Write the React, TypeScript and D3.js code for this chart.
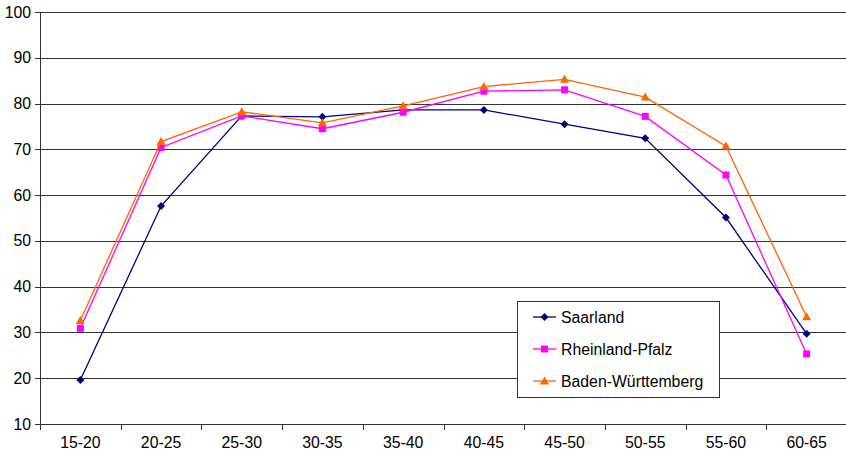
import React from "react";
import * as d3 from "d3";

const categories = ["15-20", "20-25", "25-30", "30-35", "35-40", "40-45", "45-50", "50-55", "55-60", "60-65"];
const saarland = [19.6, 57.6, 77.3, 77.1, 78.6, 78.6, 75.5, 72.4, 55.1, 29.7];
const rheinlandPfalz = [30.9, 70.4, 77.3, 74.5, 78.1, 82.7, 83.0, 77.2, 64.4, 25.3];
const badenWuerttemberg = [32.6, 71.7, 78.2, 75.8, 79.5, 83.7, 85.3, 81.4, 70.7, 33.4];
const yTicks = [10, 20, 30, 40, 50, 60, 70, 80, 90, 100];

const seriesList = [
  { name: "Saarland", values: saarland, color: "#000080", marker: "diamond" },
  { name: "Rheinland-Pfalz", values: rheinlandPfalz, color: "#FF00FF", marker: "square" },
  { name: "Baden-Württemberg", values: badenWuerttemberg, color: "#FF6600", marker: "triangle" },
];

const W = 846;
const H = 455;
const left = 40;
const right = 847;
const top = 12;
const bottom = 424;
const font = "Arial, 'Liberation Sans', sans-serif";
const fontSize = 15.8;

function Marker({ type, x, y, color }: { type: string; x: number; y: number; color: string }) {
  if (type === "diamond") {
    const r = 4;
    return <path d={`M${x},${y - r}L${x + r},${y}L${x},${y + r}L${x - r},${y}Z`} fill={color} />;
  }
  if (type === "square") {
    const s = 7;
    return <rect x={x - s / 2} y={y - s / 2} width={s} height={s} fill={color} />;
  }
  const r = 4.6;
  return <path d={`M${x},${y - r}L${x + r},${y + r * 0.75}L${x - r},${y + r * 0.75}Z`} fill={color} />;
}

export default function App() {
  const x = d3.scaleBand<string>().domain(categories).range([left, right]);
  const y = d3.scaleLinear().domain([10, 100]).range([bottom, top]);
  const cx = (c: string) => (x(c) ?? 0) + x.bandwidth() / 2;
  const line = d3
    .line<number>()
    .x((_, i) => cx(categories[i]))
    .y((v) => y(v));

  const legendX = 517;
  const legendY = 301;
  const legendRows = [317, 349, 381];

  return (
    <svg
      width={W}
      height={H}
      style={{ position: "absolute", left: 0, top: 0, background: "#fff" }}
      fontFamily={font}
    >
      {/* horizontal gridlines */}
      {yTicks.map((t) => (
        <line
          key={"g" + t}
          x1={left}
          x2={W}
          y1={Math.round(y(t)) + 0.5}
          y2={Math.round(y(t)) + 0.5}
          stroke="#333"
          strokeWidth={1}
        />
      ))}
      {/* y axis */}
      <line x1={left + 0.5} x2={left + 0.5} y1={top} y2={bottom + 1} stroke="#333" />
      {yTicks.map((t) => (
        <g key={"yt" + t}>
          <line x1={left - 5} x2={left} y1={Math.round(y(t)) + 0.5} y2={Math.round(y(t)) + 0.5} stroke="#333" />
          <text x={31} y={y(t) + 5.5} textAnchor="end" fontSize={fontSize} fill="#000">
            {t}
          </text>
        </g>
      ))}
      {/* x axis ticks and labels */}
      {categories.map((c) => (
        <g key={"xt" + c}>
          <line
            x1={Math.round(x(c) ?? 0) + 0.5}
            x2={Math.round(x(c) ?? 0) + 0.5}
            y1={bottom}
            y2={bottom + 6}
            stroke="#333"
          />
          <text x={cx(c)} y={448} textAnchor="middle" fontSize={fontSize} fill="#000">
            {c}
          </text>
        </g>
      ))}
      {/* series */}
      {seriesList.map((s) => (
        <g key={s.name}>
          <path d={line(s.values) ?? ""} fill="none" stroke={s.color} strokeWidth={1.3} />
          {s.values.map((v, i) => (
            <Marker key={i} type={s.marker} x={cx(categories[i])} y={y(v)} color={s.color} />
          ))}
        </g>
      ))}
      {/* legend */}
      <rect x={legendX + 0.5} y={legendY + 0.5} width={202} height={96} fill="#fff" stroke="#333" />
      {seriesList.map((s, i) => (
        <g key={"lg" + s.name}>
          <line x1={533} x2={556} y1={legendRows[i]} y2={legendRows[i]} stroke={s.color} strokeWidth={1.3} />
          <Marker type={s.marker} x={544.5} y={legendRows[i]} color={s.color} />
          <text x={561} y={legendRows[i] + 5.5} fontSize={fontSize} fill="#000">
            {s.name}
          </text>
        </g>
      ))}
    </svg>
  );
}
